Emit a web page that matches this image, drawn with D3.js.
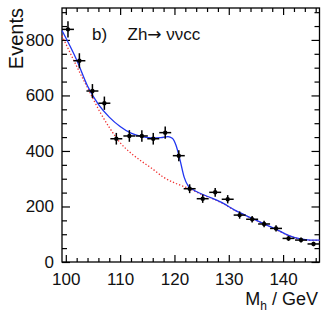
<!DOCTYPE html>
<html>
<head>
<meta charset="utf-8">
<script src="https://cdn.jsdelivr.net/npm/d3@7"></script>
<style>
  body { margin: 0; background: #fff; }
  svg { font-family: "Liberation Sans", Arial, sans-serif; }
  .axis text { font-size: 17px; fill: #111; }
  .axis line { stroke: #000; stroke-width: 1.2; }
  .axis path { display: none; }
</style>
</head>
<body>
<svg class="chart"></svg>
<script>
var W = 322, H = 315;
var plotLeft = 62, plotRight = 319.5, plotTop = 8, plotBottom = 262;

// measured bins (Mh in GeV), event counts and stat. errors
var mass = [100.4, 102.5, 104.9, 107.1, 109.3, 111.7, 114.0, 116.1, 118.3, 120.8,
            122.8, 125.2, 127.5, 129.8, 132.0, 134.3, 136.5, 138.7, 141.0, 143.3, 145.6];
var events = [838, 725, 616, 572, 444, 454, 454, 444, 466, 383,
              264, 228, 251, 226, 169, 154, 137, 121, 85, 79, 65];
var errors = [29, 27, 25, 24, 21, 21, 21, 21, 22, 20,
              16, 15, 16, 15, 13, 12, 12, 11, 9, 9, 8];
var binHalf = 1.1;

// background-only fit (red dotted)
var bkgMass = [99.3, 102, 104.2, 106.3, 108, 110, 112, 114, 116, 118, 120, 122, 123,
               125, 127, 129, 131, 133, 135, 137, 139, 141, 143, 145, 146.7];
var bkgFit = [815, 705, 620, 540, 485, 430, 392, 362, 335, 305, 285, 270, 262,
              243, 228, 210, 187, 168, 150, 132, 114, 95, 83, 78, 78];

// signal + background fit (blue)
var sbMass = [99.3, 102, 104, 106, 108, 110, 112, 114, 116, 117.5, 118.8, 119.6, 120.3,
              121, 121.8, 122.5, 123.3, 125, 127, 129, 131, 133, 135, 137, 139, 141, 143, 145, 146.7];
var sbFit = [834, 728, 634, 568, 522, 488, 464, 452, 447, 448, 452, 446, 420,
             370, 305, 275, 262, 245, 229, 211, 188, 169, 151, 133, 115, 96, 84, 79, 79];

var xMajor = [100, 110, 120, 130, 140];
var yMajor = [0, 200, 400, 600, 800];

var x = d3.scaleLinear().domain([99.3, 146.7]).range([plotLeft, plotRight]);
var y = d3.scaleLinear().domain([0, 915]).range([plotBottom, plotTop]);

var svg = d3.select(".chart").attr("width", W).attr("height", H);

var xMinor = d3.range(100, 147, 2).filter(function(d) { return d % 10 !== 0; });
var yMinor = d3.range(50, 915, 50).filter(function(d) { return d % 200 !== 0; });

// bottom axis with labels
svg.append("g")
  .attr("class", "axis")
  .attr("transform", "translate(0," + plotBottom + ")")
  .call(d3.axisBottom(x).tickValues(xMajor).tickSize(-7).tickPadding(11).tickFormat(d3.format("d")));
svg.append("g")
  .attr("class", "axis")
  .attr("transform", "translate(0," + plotBottom + ")")
  .call(d3.axisBottom(x).tickValues(xMinor).tickSize(-4).tickFormat(""));
// top mirror
svg.append("g")
  .attr("class", "axis")
  .attr("transform", "translate(0," + plotTop + ")")
  .call(d3.axisTop(x).tickValues(xMajor).tickSize(-7).tickFormat(""));
svg.append("g")
  .attr("class", "axis")
  .attr("transform", "translate(0," + plotTop + ")")
  .call(d3.axisTop(x).tickValues(xMinor).tickSize(-4).tickFormat(""));

// left axis with labels
svg.append("g")
  .attr("class", "axis")
  .attr("transform", "translate(" + plotLeft + ",0)")
  .call(d3.axisLeft(y).tickValues(yMajor).tickSize(-8).tickPadding(8).tickFormat(d3.format("d")));
svg.append("g")
  .attr("class", "axis")
  .attr("transform", "translate(" + plotLeft + ",0)")
  .call(d3.axisLeft(y).tickValues(yMinor).tickSize(-5).tickFormat(""));
// right mirror
svg.append("g")
  .attr("class", "axis")
  .attr("transform", "translate(" + plotRight + ",0)")
  .call(d3.axisRight(y).tickValues(yMajor).tickSize(-8).tickFormat(""));
svg.append("g")
  .attr("class", "axis")
  .attr("transform", "translate(" + plotRight + ",0)")
  .call(d3.axisRight(y).tickValues(yMinor).tickSize(-5).tickFormat(""));

// frame
svg.append("rect")
  .attr("x", plotLeft).attr("y", plotTop)
  .attr("width", plotRight - plotLeft).attr("height", plotBottom - plotTop)
  .attr("fill", "none").attr("stroke", "#000").attr("stroke-width", 1.3);

var line = d3.line()
  .x(function(d) { return x(d[0]); })
  .y(function(d) { return y(d[1]); })
  .curve(d3.curveMonotoneX);

svg.append("path")
  .datum(d3.zip(bkgMass, bkgFit))
  .attr("d", line)
  .attr("fill", "none")
  .attr("stroke", "#f03030")
  .attr("stroke-width", 1.3)
  .attr("stroke-dasharray", "1.3,2");

svg.append("path")
  .datum(d3.zip(sbMass, sbFit))
  .attr("d", line)
  .attr("fill", "none")
  .attr("stroke", "#2035f0")
  .attr("stroke-width", 1.3);

// data points with error bars
var pts = svg.append("g").selectAll("g")
  .data(d3.range(mass.length))
  .enter().append("g");
pts.append("line")
  .attr("x1", function(i) { return x(mass[i] - binHalf); })
  .attr("x2", function(i) { return x(mass[i] + binHalf); })
  .attr("y1", function(i) { return y(events[i]); })
  .attr("y2", function(i) { return y(events[i]); })
  .attr("stroke", "#000").attr("stroke-width", 1.5);
pts.append("line")
  .attr("x1", function(i) { return x(mass[i]); })
  .attr("x2", function(i) { return x(mass[i]); })
  .attr("y1", function(i) { return y(events[i] - errors[i]); })
  .attr("y2", function(i) { return y(events[i] + errors[i]); })
  .attr("stroke", "#000").attr("stroke-width", 1.5);
pts.append("circle")
  .attr("cx", function(i) { return x(mass[i]); })
  .attr("cy", function(i) { return y(events[i]); })
  .attr("r", 2.2)
  .attr("fill", "#000");

// labels
svg.append("text")
  .attr("transform", "translate(23," + plotTop + ") rotate(-90)")
  .attr("text-anchor", "end")
  .style("font-size", "20px")
  .attr("fill", "#111")
  .text("Events");

var xt = svg.append("text")
  .attr("x", 318).attr("y", 305)
  .attr("text-anchor", "end")
  .style("font-size", "18px")
  .attr("fill", "#111");
xt.append("tspan").text("M");
xt.append("tspan").attr("dy", 5).style("font-size", "12px").text("h");
xt.append("tspan").attr("dy", -5).text(" / GeV");

svg.append("text")
  .attr("x", 92).attr("y", 40)
  .style("font-size", "17px")
  .attr("fill", "#111")
  .text("b)");
var title = svg.append("text")
  .attr("x", 127.5).attr("y", 40)
  .style("font-size", "17px")
  .attr("fill", "#111");
title.append("tspan").text("Zh");
title.append("tspan").style("font-family", "DejaVu Sans").text("\u2192");
title.append("tspan").text(" \u03bd\u03bdcc");
</script>
</body>
</html>
